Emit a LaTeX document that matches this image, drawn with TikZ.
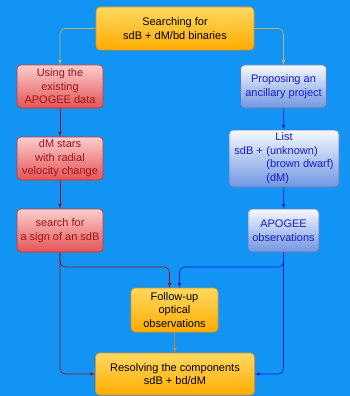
\documentclass[tikz,border=0pt]{standalone}
\usepackage{fontspec}
\setmainfont{Liberation Sans}
\usepackage{tikz}
\usepackage{xcolor}
\usetikzlibrary{arrows,positioning,shadows}

\definecolor{bgblue}{RGB}{18,148,245}
\definecolor{goldtop}{RGB}{255,216,96}
\definecolor{goldbot}{RGB}{255,172,0}
\definecolor{goldline}{RGB}{205,150,40}
\definecolor{redtop}{RGB}{252,205,205}
\definecolor{redbot}{RGB}{228,84,86}
\definecolor{redline}{RGB}{185,55,60}
\definecolor{redtext}{RGB}{160,20,25}
\definecolor{bluetop}{RGB}{246,249,255}
\definecolor{bluebot}{RGB}{112,150,226}
\definecolor{blueline}{RGB}{85,120,200}
\definecolor{bluetext}{RGB}{25,25,205}
\definecolor{tanline}{RGB}{196,176,104}
\definecolor{redarrow}{RGB}{150,20,35}
\definecolor{bluearrow}{RGB}{10,30,215}
\definecolor{orangearrow}{RGB}{235,130,20}

\begin{document}
\begin{tikzpicture}[x=1pt,y=-1pt,
	box/.style={rounded corners=4pt,line width=0.6pt,inner sep=0pt,align=center,
		font=\fontsize{11}{13.5}\selectfont,
		drop shadow={opacity=0.35,shadow xshift=0.8pt,shadow yshift=-1.2pt}},
	goldbox/.style={box,draw=goldline,top color=goldtop,bottom color=goldbot,text=black},
	redbox/.style={box,draw=redline,top color=redtop,bottom color=redbot,text=redtext},
	bluebox/.style={box,draw=blueline,top color=bluetop,bottom color=bluebot,text=bluetext},
	link/.style={-latex,line width=0.7pt,rounded corners=5pt}]
	\fill[bgblue] (0,0) rectangle (350,396);

	\node[goldbox,minimum width=158pt,minimum height=43pt] (search) at (175,28.5) {Searching for\\sdB + dM/bd binaries};

	\node[redbox,minimum width=86pt,minimum height=43pt] (using) at (60,86.5) {Using the\\existing\\APOGEE data};
	\node[redbox,minimum width=86pt,minimum height=43pt] (dmstars) at (60,158.5) {dM stars\\with radial\\velocity change};
	\node[redbox,minimum width=86pt,minimum height=43pt] (sign) at (60,230.5) {search for\\a sign of an sdB};

	\node[bluebox,minimum width=86pt,minimum height=43pt] (propose) at (283.5,86.5) {Proposing an\\ancillary project};
	\node[bluebox,minimum width=110pt,minimum height=57pt] (list) at (284,158.5)
		{\begin{tabular}{@{}r@{\hspace{3.5pt}}l@{}}\multicolumn{2}{c}{List}\\sdB +&(unknown)\\&(brown dwarf)\\&(dM)\end{tabular}};
	\node[bluebox,minimum width=71pt,minimum height=43pt] (apogee) at (283.5,230.5) {APOGEE\\observations};

	\node[goldbox,minimum width=87pt,minimum height=44pt] (follow) at (174.5,310) {Follow-up\\optical\\observations};
	\node[goldbox,minimum width=159pt,minimum height=42pt] (resolve) at (175,374) {Resolving the components\\sdB + bd/dM};

	\coordinate (redjoin) at (60,267);
	\coordinate (bluejoin) at (283.5,267);

	\draw[link,tanline] (search.west) -| (using.north);
	\draw[link,tanline] (search.east) -| (propose.north);

	\draw[link,redarrow] (using) -- (dmstars);
	\draw[link,redarrow] (dmstars) -- (sign);
	\draw[link,redarrow] (sign.south) -- (redjoin) -| ([xshift=-5pt]follow.north);
	\draw[link,redarrow] (sign.south) |- (resolve.west);

	\draw[link,bluearrow] (propose) -- (list);
	\draw[link,bluearrow] (list) -- (apogee);
	\draw[link,bluearrow] (apogee.south) -- (bluejoin) -| ([xshift=5pt]follow.north);
	\draw[link,bluearrow] (apogee.south) |- (resolve.east);

	\draw[link,orangearrow] (follow) -- (resolve);
\end{tikzpicture}
\end{document}
